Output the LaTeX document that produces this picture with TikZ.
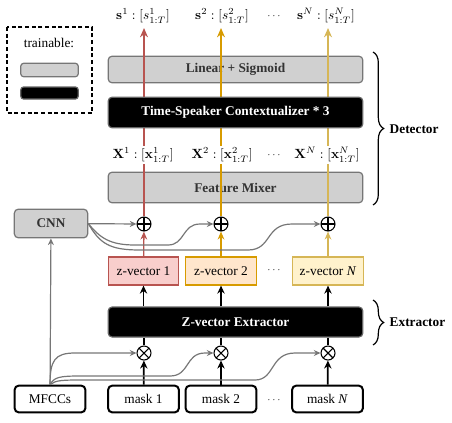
\documentclass[tikz,border=0pt]{standalone}
\usepackage[no-math]{fontspec}
\setmainfont{Liberation Serif}
\usetikzlibrary{positioning,arrows.meta,decorations.pathreplacing,calc}

\definecolor{red-line}{HTML}{B85450}
\definecolor{red-fill}{HTML}{F8CECC}
\definecolor{orange-line}{HTML}{D79B00}
\definecolor{orange-fill}{HTML}{FFE6CC}
\definecolor{yellow-line}{HTML}{D6B656}
\definecolor{yellow-fill}{HTML}{FFF2CC}
\definecolor{box-gray}{HTML}{D0D0D0}
\definecolor{line-gray}{HTML}{767676}

\tikzset{
	graybox/.style={rectangle,rounded corners=3pt,draw=line-gray,fill=box-gray,line width=0.9pt,font=\bfseries,text=black!80},
	blackbox/.style={rectangle,rounded corners=3pt,draw=black!60,fill=black,line width=0.9pt,font=\bfseries,text=white},
	inputbox/.style={rectangle,rounded corners=3pt,draw=black,fill=white,line width=1.5pt,minimum height=20pt,minimum width=53pt},
	zbox/.style={rectangle,line width=0.9pt,minimum height=21pt,minimum width=53pt},
	opcircle/.style={circle,draw,line width=0.8pt,minimum size=10.5pt,inner sep=0pt,fill=white},
	plusnode/.style={opcircle,path picture={\draw[line width=0.8pt] (path picture bounding box.north) -- (path picture bounding box.south) (path picture bounding box.west) -- (path picture bounding box.east);}},
	timesnode/.style={opcircle,path picture={\draw[line width=0.8pt] (path picture bounding box.north west) -- (path picture bounding box.south east) (path picture bounding box.south west) -- (path picture bounding box.north east);}},
	grayarrow/.style={draw=line-gray,line width=0.9pt,-{Stealth[length=5pt,width=4.5pt]}},
	blackarrow/.style={line width=1.3pt,-{Stealth[length=6pt,width=5.5pt]}},
	veclabel/.style={fill=white,inner sep=1pt},
	dots/.style={font=\scriptsize},
	bracedeco/.style={decorate,decoration={brace,amplitude=8pt},line width=0.9pt}
}

\begin{document}
\begin{tikzpicture}[x=0.75pt,y=-0.75pt]
	
	\useasboundingbox (0,0) rectangle (452,422);
	
	%%%%%%%%%%%%%%%%%%%%%%%%%%%%%%%%%%%%%%%%%%%%%%%%%%%%%%
	% legend
	
	\draw [line width=1.1pt,dash pattern=on 3pt off 2pt] (7,27) rectangle (92,113);
	\node (trainable-text) at (49,43) {trainable:};
	\node [graybox,minimum width=43pt,minimum height=10pt,rounded corners=2pt] (legend-gray) at (49.5,70) {};
	\node [blackbox,minimum width=43pt,minimum height=9pt,rounded corners=2pt] (legend-black) at (49.5,93) {};
	
	%%%%%%%%%%%%%%%%%%%%%%%%%%%%%%%%%%%%%%%%%%%%%%%%%%%%%%
	% inputs
	
	\node [inputbox] (mfcc) at (50,399) {MFCCs};
	\node [inputbox] (mask-1) at (143.5,399) {mask 1};
	\node [inputbox] (mask-2) at (221,399) {mask 2};
	\node [inputbox] (mask-n) at (327.5,399) {mask \textit{N}};
	\node [dots] (mask-dots) at (274,400) {$\cdots$};
	
	\node [timesnode] (times-1) at (144,353) {};
	\node [timesnode] (times-2) at (221,353) {};
	\node [timesnode] (times-n) at (328,353) {};
	
	%%%%%%%%%%%%%%%%%%%%%%%%%%%%%%%%%%%%%%%%%%%%%%%%%%%%%%
	% extractor
	
	\node [blackbox,minimum width=191pt,minimum height=22.5pt] (extractor) at (235.5,322) {Z-vector Extractor};
	
	\node [zbox,draw=red-line,fill=red-fill] (zvec-1) at (143.5,271) {z-vector 1};
	\node [zbox,draw=orange-line,fill=orange-fill] (zvec-2) at (221,271) {z-vector 2};
	\node [zbox,draw=yellow-line,fill=yellow-fill] (zvec-n) at (328,271) {z-vector \textit{N}};
	\node [dots] (zvec-dots) at (274,270) {$\cdots$};
	
	\node [graybox,minimum width=55pt,minimum height=21.5pt] (cnn) at (51,223.5) {CNN};
	
	\node [plusnode] (plus-1) at (144,224) {};
	\node [plusnode] (plus-2) at (221,224) {};
	\node [plusnode] (plus-n) at (328,224) {};
	
	%%%%%%%%%%%%%%%%%%%%%%%%%%%%%%%%%%%%%%%%%%%%%%%%%%%%%%
	% detector
	
	\node [graybox,minimum width=191pt,minimum height=23pt] (mixer) at (235.5,187.5) {Feature Mixer};
	\node [graybox,minimum width=191pt,minimum height=20pt] (linear) at (235.5,69.5) {Linear + Sigmoid};
	
	\node (s-1-text) at (143,16) {$\mathbf{s}^1:[s^1_{1:T}]$};
	\node (s-2-text) at (222,16) {$\mathbf{s}^2:[s^2_{1:T}]$};
	\node (s-n-text) at (326,16) {$\mathbf{s}^N:[s^N_{1:T}]$};
	\node [dots] (s-dots) at (274,16) {$\cdots$};
	
	\draw [red-line,line width=1pt,-{Stealth[length=6pt,width=5pt]}] (zvec-1) -- (plus-1);
	\draw [orange-line,line width=1pt,-{Stealth[length=6pt,width=5pt]}] (zvec-2) -- (plus-2);
	\draw [yellow-line,line width=1pt,-{Stealth[length=6pt,width=5pt]}] (zvec-n) -- (plus-n);
	
	\draw [red-line,line width=1pt,-{Stealth[length=7pt,width=6pt]}] (plus-1) -- (plus-1 |- 0,28);
	\draw [orange-line,line width=1pt,-{Stealth[length=7pt,width=6pt]}] (plus-2) -- (plus-2 |- 0,28);
	\draw [yellow-line,line width=1pt,-{Stealth[length=7pt,width=6pt]}] (plus-n) -- (plus-n |- 0,28);
	
	\node [blackbox,minimum width=191pt,minimum height=23pt] (contextualizer) at (235.5,112.5) {Time-Speaker Contextualizer * 3};
	
	\node [veclabel] (x-1-text) at (143,155) {$\mathbf{X}^1:[\mathbf{x}^1_{1:T}]$};
	\node [veclabel] (x-2-text) at (222,155) {$\mathbf{X}^2:[\mathbf{x}^2_{1:T}]$};
	\node [veclabel] (x-n-text) at (327,155) {$\mathbf{X}^N:[\mathbf{x}^N_{1:T}]$};
	\node [dots] (x-dots) at (274,155) {$\cdots$};
	
	%%%%%%%%%%%%%%%%%%%%%%%%%%%%%%%%%%%%%%%%%%%%%%%%%%%%%%
	% connectors
	
	\draw [blackarrow] (mask-1) -- (times-1);
	\draw [blackarrow] (mask-2) -- (times-2);
	\draw [blackarrow] (mask-n) -- (times-n);
	
	\draw [line width=1.3pt] (times-1) -- (times-1 |- extractor.south);
	\draw [line width=1.3pt] (times-2) -- (times-2 |- extractor.south);
	\draw [line width=1.3pt] (times-n) -- (times-n |- extractor.south);
	
	\draw [blackarrow] (zvec-1 |- extractor.north) -- (zvec-1);
	\draw [blackarrow] (zvec-2 |- extractor.north) -- (zvec-2);
	\draw [blackarrow] (zvec-n |- extractor.north) -- (zvec-n);
	
	\draw [grayarrow] (mfcc) -- (cnn);
	\draw [grayarrow] (mfcc.north) .. controls (50,360) and (55,353) .. (75,353) -- (times-1);
	\draw [grayarrow] (mfcc.north) .. controls (54,377) and (60,376) .. (80,376) -- (170,376) .. controls (190,376) and (185,353) .. (205,353) -- (times-2);
	\draw [grayarrow] (mfcc.north) .. controls (56,380) and (62,380) .. (85,380) -- (255,380) .. controls (275,380) and (270,353) .. (295,353) -- (times-n);
	
	\draw [grayarrow] (cnn) -- (plus-1);
	\draw [grayarrow] (cnn.east) .. controls (100,238) and (110,245) .. (135,245) -- (168,245) .. controls (185,245) and (182,224) .. (200,224) -- (plus-2);
	\draw [grayarrow] (cnn.east) .. controls (100,244) and (110,250) .. (140,250) -- (248,250) .. controls (272,250) and (265,224) .. (292,224) -- (plus-n);
	
	%%%%%%%%%%%%%%%%%%%%%%%%%%%%%%%%%%%%%%%%%%%%%%%%%%%%%%
	% braces
	
	\draw [bracedeco] (373,52) -- (373,205) coordinate [midway] (detector-mid);
	\node [font=\bfseries,anchor=west] (detector-text) at (385,129) {Detector};
	\draw [bracedeco] (373,300) -- (373,345);
	\node [font=\bfseries,anchor=west] (extractor-text) at (385,322) {Extractor};
	
\end{tikzpicture}
\end{document}
